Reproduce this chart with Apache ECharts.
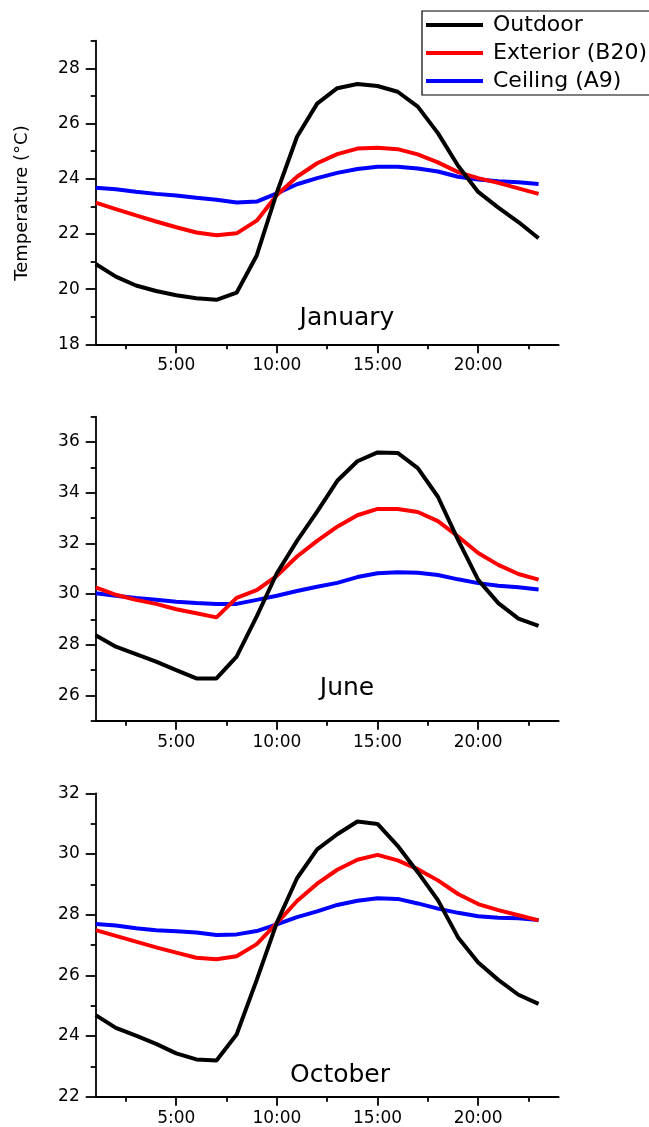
<!DOCTYPE html>
<html>
<head>
<meta charset="utf-8">
<script src="https://cdn.jsdelivr.net/npm/echarts@6/dist/echarts.min.js"></script>
<style>
  html, body { margin: 0; padding: 0; background: #fff; }
  #chart { width: 649px; height: 1127px; }
</style>
</head>
<body>
<div id="chart"></div>
<script>
// Hour of day (x values shared by all panels)
const HOURS = [1, 2, 3, 4, 5, 6, 7, 8, 9, 10, 11, 12, 13, 14, 15, 16, 17, 18, 19, 20, 21, 22, 23];

// Series names
const SERIES_NAMES = ['Outdoor', 'Exterior (B20)', 'Ceiling (A9)'];
const MONTHS = ['January', 'June', 'October'];

// January temperatures (°C)
const JAN_OUTDOOR  = [20.91, 20.45, 20.13, 19.93, 19.78, 19.67, 19.61, 19.87, 21.22, 23.50, 25.52, 26.72, 27.28, 27.43, 27.36, 27.15, 26.61, 25.65, 24.47, 23.52, 22.95, 22.43, 21.84];
const JAN_EXTERIOR = [23.13, 22.90, 22.67, 22.45, 22.24, 22.05, 21.95, 22.02, 22.48, 23.41, 24.07, 24.56, 24.89, 25.09, 25.12, 25.07, 24.88, 24.59, 24.24, 24.02, 23.85, 23.65, 23.45];
const JAN_CEILING  = [23.67, 23.62, 23.53, 23.45, 23.39, 23.31, 23.24, 23.14, 23.17, 23.47, 23.80, 24.02, 24.21, 24.35, 24.43, 24.43, 24.37, 24.26, 24.07, 23.97, 23.91, 23.87, 23.81];

// June temperatures (°C)
const JUN_OUTDOOR  = [28.37, 27.92, 27.63, 27.33, 27.00, 26.67, 26.67, 27.53, 29.12, 30.82, 32.10, 33.25, 34.47, 35.24, 35.59, 35.57, 34.97, 33.84, 32.14, 30.56, 29.64, 29.03, 28.74];
const JUN_EXTERIOR = [30.26, 29.97, 29.77, 29.61, 29.40, 29.24, 29.08, 29.85, 30.15, 30.72, 31.48, 32.10, 32.66, 33.11, 33.36, 33.36, 33.24, 32.88, 32.27, 31.62, 31.15, 30.79, 30.57];
const JUN_CEILING  = [30.03, 29.93, 29.84, 29.77, 29.70, 29.65, 29.61, 29.61, 29.77, 29.93, 30.12, 30.29, 30.44, 30.67, 30.82, 30.86, 30.84, 30.75, 30.58, 30.43, 30.33, 30.27, 30.18];

// October temperatures (°C)
const OCT_OUTDOOR  = [24.69, 24.27, 24.01, 23.74, 23.43, 23.23, 23.19, 24.05, 25.85, 27.74, 29.20, 30.15, 30.65, 31.07, 30.99, 30.27, 29.40, 28.48, 27.25, 26.42, 25.85, 25.36, 25.06];
const OCT_EXTERIOR = [27.49, 27.30, 27.11, 26.92, 26.75, 26.58, 26.53, 26.63, 27.03, 27.72, 28.45, 29.02, 29.48, 29.81, 29.97, 29.79, 29.50, 29.13, 28.68, 28.35, 28.15, 27.98, 27.81];
const OCT_CEILING  = [27.69, 27.64, 27.55, 27.49, 27.45, 27.41, 27.33, 27.35, 27.46, 27.68, 27.92, 28.11, 28.32, 28.46, 28.54, 28.52, 28.37, 28.20, 28.06, 27.95, 27.90, 27.88, 27.82];

// Axis ticks
const X_MAJOR = [5, 10, 15, 20];
const X_MINOR = [2.5, 7.5, 12.5, 17.5, 22.5];
const JAN_Y_MAJOR = [18, 20, 22, 24, 26, 28];
const JAN_Y_MINOR = [19, 21, 23, 25, 27, 29];
const JUN_Y_MAJOR = [26, 28, 30, 32, 34, 36];
const JUN_Y_MINOR = [25, 27, 29, 31, 33, 35, 37];
const OCT_Y_MAJOR = [22, 24, 26, 28, 30, 32];
const OCT_Y_MINOR = [23, 25, 27, 29, 31];

const FONT = 'DejaVu Sans';
const COLORS = ['#000000', '#ff0000', '#0000ff'];

const panels = [
  { month: MONTHS[0], data: [JAN_OUTDOOR, JAN_EXTERIOR, JAN_CEILING], yMin: 18, yMax: 29, yMajor: JAN_Y_MAJOR, yMinor: JAN_Y_MINOR,
    top: 40.7, height: 303.6, labelX: 347, labelY: 318 },
  { month: MONTHS[1], data: [JUN_OUTDOOR, JUN_EXTERIOR, JUN_CEILING], yMin: 25, yMax: 37, yMajor: JUN_Y_MAJOR, yMinor: JUN_Y_MINOR,
    top: 416.7, height: 304, labelX: 347, labelY: 688.5 },
  { month: MONTHS[2], data: [OCT_OUTDOOR, OCT_EXTERIOR, OCT_CEILING], yMin: 22, yMax: 32, yMajor: OCT_Y_MAJOR, yMinor: OCT_Y_MINOR,
    top: 793.3, height: 303.4, labelX: 340, labelY: 1075.5 }
];

const axisLineStyle = { color: '#000', width: 1.8 };

const grid = [], xAxis = [], yAxis = [], series = [], graphic = [];

panels.forEach((p, i) => {
  grid.push({ left: 95.7, top: p.top, width: 463, height: p.height, containLabel: false });

  // main x axis: line, long ticks, hour labels
  xAxis.push({
    type: 'value', gridIndex: i, position: 'bottom', min: 1, max: 24,
    axisLine: { show: true, onZero: false, lineStyle: axisLineStyle },
    axisTick: { show: true, length: 9, customValues: X_MAJOR, lineStyle: axisLineStyle },
    axisLabel: { show: true, customValues: X_MAJOR, margin: 13, formatter: v => v + ':00',
      fontFamily: FONT, fontSize: 17, color: '#000' },
    splitLine: { show: false }
  });
  // minor x ticks
  xAxis.push({
    type: 'value', gridIndex: i, position: 'bottom', min: 1, max: 24,
    axisLine: { show: false, onZero: false },
    axisTick: { show: true, length: 5, customValues: X_MINOR, lineStyle: axisLineStyle },
    axisLabel: { show: false },
    splitLine: { show: false }
  });

  // main y axis
  yAxis.push({
    type: 'value', gridIndex: i, position: 'left', min: p.yMin, max: p.yMax,
    axisLine: { show: true, onZero: false, lineStyle: axisLineStyle },
    axisTick: { show: true, length: 10, customValues: p.yMajor, lineStyle: axisLineStyle },
    axisLabel: { show: true, customValues: p.yMajor, margin: 16,
      fontFamily: FONT, fontSize: 17, color: '#000' },
    splitLine: { show: false }
  });
  // minor y ticks
  yAxis.push({
    type: 'value', gridIndex: i, position: 'left', min: p.yMin, max: p.yMax,
    axisLine: { show: false, onZero: false },
    axisTick: { show: true, length: 5, customValues: p.yMinor, lineStyle: axisLineStyle },
    axisLabel: { show: false },
    splitLine: { show: false }
  });

  p.data.forEach((vals, k) => {
    series.push({
      name: SERIES_NAMES[k],
      type: 'line',
      xAxisIndex: 2 * i,
      yAxisIndex: 2 * i,
      data: HOURS.map((h, j) => [h, vals[j]]),
      showSymbol: false,
      symbol: 'none',
      color: COLORS[k],
      lineStyle: { color: COLORS[k], width: 4 },
      z: 3 + (2 - k),
      animation: false
    });
  });

  graphic.push({
    type: 'text', x: p.labelX, y: p.labelY,
    style: { text: p.month, fontFamily: FONT, fontSize: 25, fill: '#000',
      textAlign: 'center', textVerticalAlign: 'middle' }
  });
});

// y-axis title of the top panel
graphic.push({
  type: 'text', x: 22, y: 203, rotation: Math.PI / 2,
  style: { text: 'Temperature (°C)', fontFamily: FONT, fontSize: 18, fill: '#000',
    textAlign: 'center', textVerticalAlign: 'middle' }
});

const chart = echarts.init(document.getElementById('chart'), null, { renderer: 'canvas' });
chart.setOption({
  backgroundColor: '#fff',
  animation: false,
  legend: {
    data: SERIES_NAMES,
    orient: 'vertical',
    left: 422, top: 11,
    icon: 'rect', itemWidth: 57, itemHeight: 4, itemGap: 4,
    padding: [2, 40, 2, 4],
    borderColor: '#000', borderWidth: 1.2,
    selectedMode: false,
    textStyle: { fontFamily: FONT, fontSize: 22, color: '#000', lineHeight: 24, padding: [0, 0, 0, 5] }
  },
  grid, xAxis, yAxis, series, graphic
});
</script>
</body>
</html>
